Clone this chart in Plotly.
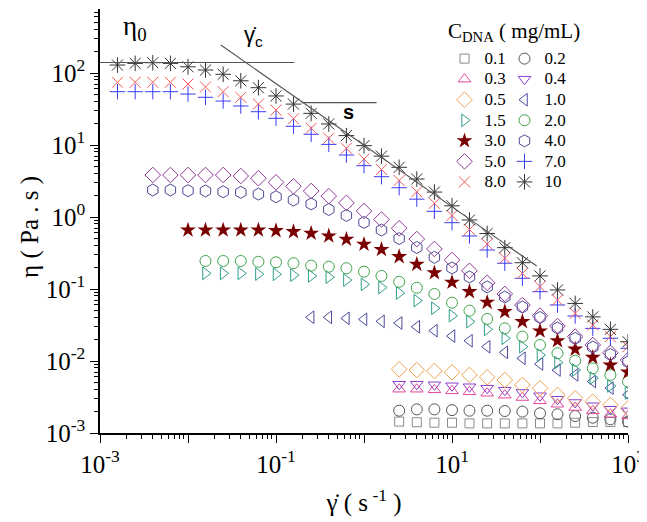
import plotly.graph_objects as go

# ---------------- data ----------------
shear_rate = [0.00158, 0.00251, 0.00398, 0.00631, 0.01, 0.0158, 0.0251, 0.0398, 0.0631,
              0.1, 0.158, 0.251, 0.398, 0.631, 1.0, 1.58, 2.51, 3.98, 6.31,
              10, 15.8, 25.1, 39.8, 63.1, 100, 158, 251, 398, 631, 1000]

concentrations = ["0.1", "0.2", "0.3", "0.4", "0.5", "1.0", "1.5",
                  "2.0", "3.0", "4.0", "5.0", "7.0", "8.0", "10"]

eta_c01 = [0.00144, 0.00141, 0.00139, 0.00139, 0.00136, 0.00136, 0.00136, 0.00136,
           0.00136, 0.00136, 0.00139, 0.00142, 0.00142, 0.00142]
eta_c02 = [0.00204, 0.00213, 0.00213, 0.00208, 0.00204, 0.00204, 0.00202, 0.00198,
           0.00188, 0.00182, 0.00172, 0.00163, 0.00155, 0.00144]
eta_c03 = [0.00406, 0.00406, 0.00398, 0.00385, 0.00373, 0.00357, 0.00335, 0.00311,
           0.0028, 0.00251, 0.00226, 0.00203, 0.00182, 0.00173]
eta_c04 = [0.00476, 0.00476, 0.00467, 0.00453, 0.00439, 0.00419, 0.00393, 0.00366,
           0.00329, 0.00294, 0.00265, 0.00239, 0.00214, 0.00203]
eta_c05 = [0.00767, 0.0075, 0.00726, 0.00697, 0.0064, 0.00594, 0.00545, 0.00465,
           0.00418, 0.00337, 0.00303, 0.00272, 0.00245, 0.0022]
eta_c10 = [0.0405, 0.0405, 0.0392, 0.0379, 0.0356, 0.0337, 0.0299, 0.0264, 0.0222,
           0.0191, 0.0158, 0.0132, 0.0109, 0.0091, 0.0075, 0.0064, 0.0052, 0.0042, 0.0034]
eta_c15 = [0.165, 0.165, 0.165, 0.161, 0.16, 0.156, 0.152, 0.146, 0.133, 0.116, 0.105,
           0.0879, 0.0689, 0.054, 0.0426, 0.0352, 0.0275, 0.0207, 0.0158, 0.0121,
           0.0095, 0.0075, 0.0058, 0.0045, 0.0036]
eta_c20 = [0.245, 0.245, 0.245, 0.239, 0.235, 0.228, 0.211, 0.204, 0.194, 0.174, 0.152,
           0.126, 0.104, 0.0853, 0.0646, 0.05, 0.0383, 0.0284, 0.0218, 0.0167,
           0.0128, 0.0101, 0.0079, 0.0064, 0.0052]
eta_c30 = [0.659, 0.659, 0.659, 0.659, 0.659, 0.646, 0.625, 0.594, 0.545, 0.49, 0.418,
           0.354, 0.281, 0.22, 0.168, 0.124, 0.0918, 0.0653, 0.0484, 0.0352, 0.0261,
           0.0191, 0.0146, 0.0112, 0.0088, 0.007]
eta_c40 = [2.37, 2.37, 2.32, 2.3, 2.24, 2.2, 2.08, 1.91, 1.72, 1.52, 1.27, 1.05, 0.84,
           0.659, 0.502, 0.377, 0.275, 0.196, 0.147, 0.107, 0.0774, 0.0562, 0.0402,
           0.0287, 0.0206, 0.0156, 0.0123, 0.0097]
eta_c50 = [3.83, 3.83, 3.83, 3.83, 3.83, 3.71, 3.45, 3.03, 2.67, 2.3, 1.95, 1.57, 1.21,
           0.923, 0.697, 0.494, 0.36, 0.253, 0.179, 0.122, 0.0853, 0.06, 0.0426,
           0.0306, 0.0218, 0.0167, 0.013, 0.0103]
eta_c70 = [55, 55, 55, 55, 51, 46, 40.8, 34.8, 29, 23.5, 18.2, 14.1, 10.2, 7.26, 5.16,
           3.63, 2.55, 1.77, 1.2, 0.834, 0.545, 0.348, 0.228, 0.141, 0.0918, 0.06,
           0.0422, 0.0284, 0.0207, 0.015]
eta_c80 = [74.3, 74.3, 74.3, 74.3, 70.3, 64, 55, 46, 37, 30.6, 23.2, 17.1, 12.4, 9.0,
           6.4, 4.57, 3.21, 2.24, 1.55, 1.05, 0.67, 0.42, 0.267, 0.165, 0.108, 0.0703,
           0.0459, 0.0316, 0.0218, 0.0158]
eta_c100 = [129, 136, 139, 136, 122, 110, 96, 78, 62.5, 48, 37, 27.5, 19.6, 13.5, 9.8,
            7.0, 4.9, 3.37, 2.22, 1.43, 0.91, 0.59, 0.375, 0.232, 0.152, 0.097, 0.063,
            0.041, 0.0275, 0.0185]

series_values = [eta_c01, eta_c02, eta_c03, eta_c04, eta_c05, eta_c10, eta_c15,
                 eta_c20, eta_c30, eta_c40, eta_c50, eta_c70, eta_c80, eta_c100]

# guide lines drawn on the chart
eta0_line_x = [0.001, 0.162]
eta0_line_y = [140, 140]
slope_line_x = [0.0236, 91.8]
slope_line_y = [245, 0.208]
s_line_x = [0.195, 1.39]
s_line_y = [38.7, 38.7]

x_tick_vals = [1e-3, 1e-2, 1e-1, 1, 10, 100, 1000]
x_tick_text = ["10<sup>-3</sup>", "", "10<sup>-1</sup>", "", "10<sup>1</sup>", "", "10<sup>3</sup>"]
y_tick_vals = [1e-3, 1e-2, 1e-1, 1, 10, 100]
y_tick_text = ["10<sup>-3</sup>", "10<sup>-2</sup>", "10<sup>-1</sup>",
               "10<sup>0</sup>", "10<sup>1</sup>", "10<sup>2</sup>"]

# ---------------- styles ----------------
symbols = ["square-open", "circle-open", "triangle-up-open", "triangle-down-open",
           "diamond-open", "triangle-left-open", "triangle-right-open", "circle-open",
           "star", "hexagon-open", "diamond-open", "cross-thin-open", "x-thin-open",
           "asterisk-open"]
colors = ["#8a8a8a", "#555555", "#e2479d", "#8a3ccf", "#f0a050", "#4b4b9b", "#2f9e8a",
          "#3fa34d", "#7a0000", "#4a4a96", "#8e3c96", "#3b3bef", "#f05a5a", "#333333"]
sizes = [9, 11, 11, 11, 12, 11, 11, 11, 12, 12, 12, 11, 11, 13]

SERIF = "Liberation Serif"
fig = go.Figure()

for i, (name, vals) in enumerate(zip(concentrations, series_values)):
    xs = shear_rate[len(shear_rate) - len(vals):]
    filled = symbols[i] == "star"
    fig.add_trace(go.Scatter(
        x=xs, y=vals, mode="markers",
        name='<span style="font-size:17px">' + name + "</span>",
        legend="legend" if i % 2 == 0 else "legend2",
        marker=dict(symbol=symbols[i], size=sizes[i], color=colors[i],
                    line=dict(color=colors[i], width=1 if not filled else 0)),
    ))

line_style = dict(color="#555555", width=1.2)
for lx, ly in [(eta0_line_x, eta0_line_y), (slope_line_x, slope_line_y), (s_line_x, s_line_y)]:
    fig.add_trace(go.Scatter(x=lx, y=ly, mode="lines", line=line_style,
                             showlegend=False, hoverinfo="skip"))

minor_vals = [k * 10.0 ** e for e in range(-3, 3) for k in range(2, 10)]
tick_font = dict(family=SERIF, size=25, color="black")

common = dict(type="log", showgrid=False, zeroline=False, showline=True,
              linecolor="black", linewidth=1.5, tickcolor="black", tickwidth=1.2)
Y_RANGE = [-3, 2.889]

# The page body has an 8 px margin, so the figure is sized to fit the 647x522 window.
fig.update_layout(
    width=639, height=514,
    margin=dict(l=92, r=19, t=1, b=89),
    paper_bgcolor="white", plot_bgcolor="white",
    font=dict(family=SERIF, color="black"),
    xaxis=dict(**common, range=[-3, 3], ticks="outside", ticklen=8,
               tickmode="array", tickvals=x_tick_vals, ticktext=x_tick_text,
               tickfont=tick_font,
               minor=dict(ticks="outside", ticklen=4, tickcolor="black",
                          tickmode="array", tickvals=minor_vals, showgrid=False),
               title=dict(text="γ\u0307 ( s<sup> -1</sup> )",
                          font=dict(family=SERIF, size=25), standoff=17)),
    yaxis=dict(**common, range=Y_RANGE, ticks="outside", ticklen=8,
               tickmode="array", tickvals=y_tick_vals, ticktext=y_tick_text,
               tickfont=tick_font,
               minor=dict(ticks="outside", ticklen=4, tickcolor="black",
                          tickmode="array", tickvals=minor_vals, showgrid=False)),
    xaxis2=dict(**common, range=[-3, 3], overlaying="x", side="top", anchor="y",
                ticks="inside", ticklen=8, tickmode="array", tickvals=x_tick_vals,
                showticklabels=False,
                minor=dict(ticks="inside", ticklen=4, tickcolor="black",
                           tickmode="array", tickvals=minor_vals, showgrid=False)),
    yaxis2=dict(**common, range=Y_RANGE, overlaying="y", side="right", anchor="x",
                ticks="inside", ticklen=8, tickmode="array", tickvals=y_tick_vals,
                showticklabels=False,
                minor=dict(ticks="inside", ticklen=4, tickcolor="black",
                           tickmode="array", tickvals=minor_vals, showgrid=False)),
    legend=dict(x=0.6525, y=0.919, xanchor="left", yanchor="top",
                bgcolor="rgba(0,0,0,0)", tracegroupgap=0,
                font=dict(family=SERIF, size=13.5, color="black")),
    legend2=dict(x=0.7661, y=0.919, xanchor="left", yanchor="top",
                 bgcolor="rgba(0,0,0,0)", tracegroupgap=0,
                 font=dict(family=SERIF, size=13.5, color="black")),
    annotations=[
        dict(text="η ( Pa . s )", xref="paper", yref="paper", textangle=-90,
             x=-0.1326, y=0.486, xanchor="center", yanchor="middle", showarrow=False,
             font=dict(family=SERIF, size=25)),
        dict(text="C<sub>DNA</sub> ( mg/mL)", xref="paper", yref="paper",
             x=0.7845, y=0.946, xanchor="center", yanchor="middle", showarrow=False,
             font=dict(family=SERIF, size=21)),
        dict(text="η<sub>0</sub>", xref="paper", yref="paper",
             x=0.066, y=0.955, xanchor="center", yanchor="middle", showarrow=False,
             font=dict(family=SERIF, size=27)),
        dict(text="γ\u0307<sub>c</sub>", xref="paper", yref="paper",
             x=0.291, y=0.936, xanchor="center", yanchor="middle", showarrow=False,
             font=dict(family="Liberation Sans", size=22)),
        dict(text="<b>s</b>", xref="paper", yref="paper",
             x=0.4703, y=0.756, xanchor="center", yanchor="middle", showarrow=False,
             font=dict(family="Liberation Sans", size=20)),
    ],
)

fig.write_html("out.html")
